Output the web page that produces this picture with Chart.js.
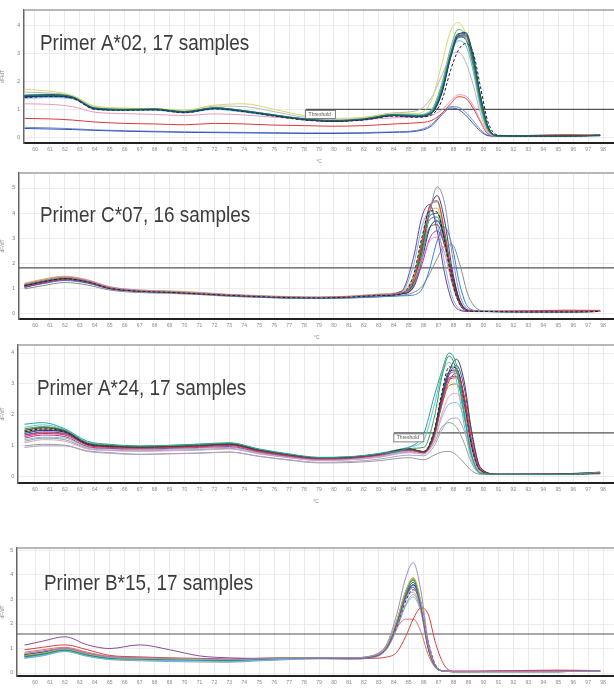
<!DOCTYPE html>
<html><head><meta charset="utf-8">
<script src="https://cdn.jsdelivr.net/npm/chart.js@4.4.1/dist/chart.umd.min.js"></script>
<style>
html,body{margin:0;padding:0;background:#fff;width:614px;height:692px;overflow:hidden}
.p{position:absolute;left:0;width:614px}
canvas{display:block}
</style></head><body>
<div class="p" id="d1"><canvas id="c1"></canvas></div>
<div class="p" id="d2"><canvas id="c2"></canvas></div>
<div class="p" id="d3"><canvas id="c3"></canvas></div>
<div class="p" id="d4"><canvas id="c4"></canvas></div>
<script>
// ---------- DATA ----------
const X_TICK_LABELS = [60,61,62,63,64,65,66,67,68,69,70,71,72,73,74,75,76,77,78,79,80,81,82,83,84,85,86,87,88,89,90,91,92,93,94,95,96,97,98];
const TITLES = ["Primer A*02, 17 samples","Primer C*07, 16 samples","Primer A*24, 17 samples","Primer B*15, 17 samples"];
const Y_TICKS_A02 = [0,1,2,3,4];
const Y_TICKS_C07 = [0,1,2,3,4,5];
const Y_TICKS_A24 = [0,1,2,3,4];
const Y_TICKS_B15 = [0,1,2,3,4,5];
const THRESHOLDS = [1.0, 1.83, 1.42, 1.59];
const THRESHOLD_FROM = [78.1, null, 84.0, null];

// Primer A*02 (temperature, °C)
const A02_TEMPS = [59.3,61,62.5,64,66,68,70,72,74,76,78,80,82,84,85.5,86.5,87.2,87.8,88.3,88.8,89.3,89.8,90.3,91,93,95.5,97.8];
const A02_VALUES = [
[1.50,1.53,1.45,1.05,1.00,1.02,0.92,1.06,0.95,0.80,0.66,0.60,0.66,0.80,0.76,0.88,1.65,2.95,3.70,3.72,2.85,1.40,0.35,0.05,0.06,0.05,0.08],
[1.45,1.48,1.42,1.02,0.98,1.00,0.90,1.03,0.93,0.78,0.64,0.58,0.64,0.78,0.74,0.85,1.55,2.85,3.65,3.75,2.95,1.50,0.40,0.06,0.05,0.05,0.07],
[1.42,1.46,1.40,1.00,0.97,0.98,0.88,1.02,0.92,0.76,0.62,0.57,0.62,0.76,0.72,0.80,1.30,2.40,3.10,3.35,3.05,1.80,0.55,0.08,0.05,0.05,0.08],
[1.48,1.50,1.43,1.04,1.00,1.00,0.91,1.04,0.94,0.79,0.65,0.59,0.65,0.82,0.78,0.92,1.75,3.00,3.60,3.50,2.60,1.20,0.28,0.05,0.05,0.05,0.08],
[1.40,1.42,1.38,1.00,0.96,0.97,0.88,1.00,0.90,0.76,0.64,0.60,0.66,0.82,0.80,0.95,1.80,2.95,3.45,3.30,2.40,1.10,0.25,0.06,0.06,0.05,0.08],
[1.46,1.49,1.41,1.03,0.99,0.99,0.89,1.03,0.93,0.78,0.63,0.58,0.63,0.78,0.75,0.86,1.60,2.90,3.60,3.65,2.80,1.35,0.32,0.05,0.05,0.05,0.07],
[1.72,1.65,1.50,1.12,1.05,1.02,0.98,1.15,1.20,1.00,0.78,0.68,0.72,0.85,0.85,1.30,2.60,3.80,4.10,3.70,2.40,1.00,0.20,0.05,0.05,0.05,0.07],
[1.62,1.58,1.48,1.10,1.02,1.02,0.95,1.12,1.10,0.92,0.72,0.64,0.70,0.88,0.95,1.40,2.20,2.90,3.05,2.70,1.90,0.85,0.18,0.05,0.05,0.05,0.07],
[1.20,1.18,1.10,0.90,0.85,0.82,0.78,0.84,0.80,0.72,0.66,0.62,0.64,0.70,0.72,0.78,0.98,1.30,1.52,1.48,1.15,0.60,0.15,0.05,0.05,0.06,0.08],
[0.68,0.66,0.62,0.55,0.50,0.48,0.45,0.50,0.48,0.44,0.42,0.40,0.42,0.48,0.52,0.60,0.85,1.20,1.45,1.40,1.05,0.55,0.12,0.05,0.07,0.10,0.08],
[0.32,0.30,0.28,0.25,0.22,0.20,0.18,0.17,0.16,0.15,0.14,0.14,0.15,0.18,0.22,0.40,0.80,1.05,1.00,0.80,0.50,0.22,0.06,0.04,0.05,0.05,0.06],
[0.36,0.34,0.31,0.27,0.24,0.22,0.20,0.19,0.18,0.17,0.16,0.16,0.17,0.20,0.25,0.45,0.85,1.10,1.08,0.90,0.60,0.28,0.08,0.04,0.05,0.05,0.06],
[1.52,1.55,1.47,1.06,1.01,1.01,0.92,1.06,0.96,0.81,0.67,0.61,0.67,0.83,0.79,0.95,1.85,3.10,3.70,3.55,2.55,1.15,0.25,0.05,0.05,0.05,0.08],
[1.47,1.50,1.44,1.04,0.99,1.01,0.91,1.05,0.94,0.79,0.65,0.59,0.65,0.80,0.76,0.88,1.65,2.95,3.60,3.55,2.70,1.30,0.30,0.05,0.05,0.05,0.08],
[1.44,1.47,1.41,1.02,0.98,0.99,0.89,1.03,0.93,0.78,0.63,0.58,0.64,0.79,0.75,0.87,1.58,2.85,3.55,3.60,2.75,1.35,0.33,0.05,0.05,0.06,0.08],
[1.49,1.51,1.44,1.05,1.00,1.01,0.91,1.05,0.95,0.80,0.66,0.60,0.66,0.81,0.77,0.89,1.62,2.90,3.62,3.68,2.90,1.45,0.38,0.06,0.05,0.05,0.08],
[1.50,1.52,1.45,1.05,1.00,1.00,0.90,1.05,0.95,0.80,0.66,0.60,0.66,0.82,0.80,0.98,1.90,3.20,3.85,3.65,2.60,1.15,0.25,0.05,0.05,0.05,0.08]
];

// Primer C*07
const C07_TEMPS = [59.3,60.5,62,63.5,65,67,69,71,73,75,77,79,81,83,84.5,85.3,85.9,86.4,86.9,87.4,87.9,88.4,89,90,93,95.5,97.8];
const C07_VALUES = [
[1.12,1.28,1.40,1.28,1.02,0.90,0.86,0.80,0.74,0.69,0.65,0.64,0.67,0.73,0.80,1.50,3.10,4.10,4.05,2.90,1.30,0.40,0.12,0.10,0.08,0.08,0.10],
[1.18,1.32,1.45,1.32,1.06,0.93,0.89,0.83,0.76,0.71,0.67,0.66,0.69,0.75,0.84,1.10,2.30,4.00,5.05,4.40,2.40,0.80,0.18,0.10,0.08,0.08,0.10],
[1.10,1.25,1.38,1.27,1.03,0.91,0.87,0.81,0.74,0.70,0.66,0.65,0.68,0.74,0.82,1.35,2.90,4.30,4.50,3.20,1.40,0.40,0.12,0.10,0.12,0.15,0.14],
[1.05,1.22,1.36,1.25,1.00,0.90,0.86,0.80,0.74,0.69,0.66,0.65,0.68,0.75,0.90,2.20,3.90,4.35,3.30,1.60,0.50,0.15,0.10,0.10,0.10,0.10,0.12],
[1.08,1.20,1.33,1.22,1.00,0.89,0.85,0.79,0.72,0.67,0.63,0.62,0.64,0.68,0.72,0.75,1.00,1.80,2.90,3.45,2.70,1.20,0.25,0.10,0.08,0.08,0.10],
[1.20,1.35,1.48,1.35,1.08,0.95,0.90,0.84,0.77,0.72,0.68,0.67,0.70,0.78,0.88,1.30,2.20,2.90,3.05,2.40,1.20,0.40,0.12,0.10,0.12,0.14,0.14],
[1.00,1.12,1.25,1.15,0.95,0.85,0.82,0.77,0.70,0.66,0.62,0.61,0.63,0.68,0.74,0.85,1.10,1.60,2.20,2.70,2.75,2.00,0.70,0.12,0.10,0.10,0.10],
[1.14,1.29,1.41,1.29,1.04,0.91,0.87,0.81,0.75,0.70,0.66,0.65,0.68,0.74,0.81,1.20,2.70,3.90,4.00,3.00,1.45,0.45,0.12,0.10,0.09,0.08,0.10],
[1.12,1.26,1.39,1.27,1.03,0.90,0.86,0.80,0.73,0.68,0.64,0.63,0.66,0.72,0.79,1.05,2.20,3.40,3.70,3.00,1.60,0.55,0.14,0.10,0.08,0.08,0.10],
[1.22,1.38,1.50,1.36,1.08,0.95,0.92,0.86,0.78,0.73,0.69,0.67,0.71,0.79,0.90,1.50,3.00,4.15,4.20,3.00,1.30,0.40,0.12,0.10,0.10,0.10,0.12],
[1.16,1.31,1.43,1.30,1.05,0.92,0.88,0.82,0.75,0.70,0.66,0.65,0.68,0.74,0.82,1.25,2.60,3.75,3.85,2.85,1.35,0.42,0.12,0.10,0.09,0.09,0.10],
[1.13,1.27,1.40,1.28,1.03,0.91,0.87,0.81,0.74,0.69,0.65,0.64,0.67,0.73,0.80,1.05,2.00,3.00,3.30,2.75,1.50,0.50,0.14,0.10,0.12,0.12,0.12],
[1.10,1.26,1.40,1.28,1.03,0.91,0.87,0.81,0.74,0.69,0.66,0.65,0.68,0.74,0.81,1.25,2.80,4.25,4.45,3.30,1.50,0.45,0.12,0.10,0.08,0.08,0.10],
[1.18,1.33,1.46,1.33,1.06,0.93,0.89,0.83,0.76,0.71,0.67,0.66,0.69,0.76,0.84,1.20,2.40,3.45,3.55,2.70,1.35,0.45,0.12,0.10,0.10,0.10,0.12],
[1.08,1.24,1.37,1.26,1.01,0.90,0.86,0.80,0.73,0.68,0.65,0.64,0.67,0.74,0.86,1.90,3.50,4.10,3.60,2.00,0.70,0.20,0.10,0.09,0.08,0.08,0.10],
[1.15,1.30,1.42,1.30,1.05,0.92,0.88,0.82,0.75,0.70,0.66,0.65,0.68,0.74,0.82,1.10,2.50,4.10,4.70,3.70,1.80,0.55,0.14,0.10,0.10,0.10,0.12]
];

// Primer A*24
const A24_TEMPS = [59.3,60.5,62,63.5,65,67,69,71,73,75,77,79,81,83,85,86,86.7,87.2,87.7,88.2,88.7,89.2,89.8,91,93,95.5,97.8];
const A24_VALUES = [
[1.70,1.75,1.55,1.15,1.05,1.00,1.02,1.06,1.10,0.90,0.74,0.63,0.65,0.75,0.95,1.40,2.60,3.40,4.00,3.60,2.10,0.70,0.12,0.08,0.08,0.08,0.15],
[1.50,1.58,1.48,1.08,1.00,0.96,0.98,1.01,1.06,0.86,0.71,0.61,0.63,0.73,0.90,0.80,1.40,2.50,3.40,3.80,3.10,1.50,0.30,0.08,0.08,0.10,0.15],
[1.30,1.40,1.35,1.02,0.95,0.93,0.95,0.98,1.02,0.83,0.69,0.59,0.61,0.71,0.88,0.78,1.30,2.30,3.10,3.35,2.60,1.20,0.25,0.08,0.08,0.10,0.12],
[1.45,1.55,1.46,1.06,0.99,0.95,0.97,1.00,1.05,0.85,0.70,0.60,0.62,0.72,0.90,0.82,1.50,2.70,3.55,3.50,2.50,1.00,0.20,0.08,0.08,0.08,0.12],
[1.55,1.62,1.50,1.10,1.02,0.98,1.00,1.04,1.08,0.88,0.72,0.62,0.64,0.74,0.92,0.95,1.90,3.20,3.90,3.40,2.00,0.70,0.12,0.08,0.08,0.08,0.12],
[1.25,1.35,1.30,0.98,0.92,0.90,0.92,0.95,0.98,0.80,0.66,0.57,0.59,0.69,0.85,0.80,1.35,2.40,3.20,3.25,2.40,1.00,0.20,0.08,0.09,0.10,0.12],
[1.10,1.20,1.15,0.90,0.85,0.82,0.84,0.86,0.90,0.74,0.62,0.53,0.55,0.63,0.78,0.74,1.20,2.00,2.60,2.70,2.10,0.90,0.18,0.08,0.08,0.10,0.12],
[0.95,1.00,1.00,0.82,0.76,0.72,0.74,0.76,0.80,0.66,0.55,0.47,0.49,0.57,0.70,0.68,1.00,1.50,1.85,1.90,1.50,0.70,0.15,0.08,0.08,0.08,0.10],
[1.00,1.05,1.02,0.84,0.78,0.73,0.75,0.77,0.80,0.66,0.54,0.45,0.46,0.52,0.62,0.55,0.70,0.80,0.82,0.70,0.45,0.20,0.08,0.08,0.08,0.08,0.10],
[1.60,1.68,1.52,1.12,1.03,0.99,1.01,1.05,1.09,0.89,0.73,0.62,0.64,0.76,0.96,1.20,2.30,3.30,3.70,3.10,1.70,0.55,0.12,0.08,0.08,0.08,0.12],
[1.40,1.50,1.44,1.05,0.98,0.94,0.96,0.99,1.04,0.84,0.70,0.60,0.62,0.72,0.89,0.80,1.45,2.60,3.40,3.45,2.60,1.10,0.22,0.08,0.08,0.08,0.12],
[1.50,1.60,1.48,1.08,1.00,0.96,0.99,1.02,1.06,0.86,0.71,0.61,0.63,0.73,0.91,0.82,1.35,2.30,2.95,3.00,2.30,1.00,0.20,0.08,0.08,0.08,0.12],
[1.35,1.45,1.40,1.04,0.97,0.94,0.96,0.99,1.03,0.84,0.69,0.59,0.61,0.71,0.88,0.78,1.30,2.40,3.30,3.60,2.90,1.40,0.28,0.08,0.08,0.08,0.12],
[1.20,1.28,1.25,0.95,0.90,0.87,0.89,0.92,0.95,0.78,0.64,0.55,0.57,0.66,0.82,0.76,1.20,1.90,2.35,2.40,1.90,0.85,0.18,0.08,0.08,0.08,0.12],
[1.45,1.52,1.45,1.06,0.99,0.95,0.97,1.00,1.05,0.85,0.70,0.60,0.62,0.72,0.89,0.80,1.40,2.45,3.15,3.20,2.40,1.00,0.20,0.08,0.08,0.10,0.12],
[1.35,1.42,1.38,1.03,0.96,0.93,0.95,0.98,1.02,0.83,0.69,0.59,0.61,0.71,0.87,0.79,1.40,2.50,3.30,3.40,2.60,1.10,0.22,0.09,0.08,0.10,0.12],
[1.15,1.25,1.20,0.92,0.86,0.84,0.86,0.88,0.92,0.75,0.62,0.53,0.55,0.64,0.80,0.74,1.10,1.60,1.75,1.60,1.10,0.45,0.10,0.08,0.08,0.08,0.10]
];

// Primer B*15
const B15_TEMPS = [59.3,60.5,62,63.5,65,67,69,71,73,75,77,79,81,82.5,83.5,84.2,84.8,85.3,85.8,86.3,86.8,87.4,88,89.5,92,95,97.8];
const B15_VALUES = [
[0.80,0.90,1.00,0.80,0.65,0.62,0.60,0.58,0.55,0.58,0.60,0.62,0.62,0.70,1.15,2.40,3.90,4.50,3.40,1.30,0.30,0.08,0.06,0.06,0.06,0.06,0.08],
[1.14,1.30,1.48,1.15,1.00,1.15,0.95,0.70,0.62,0.60,0.60,0.62,0.60,0.66,1.00,2.00,3.10,3.50,2.70,1.00,0.25,0.08,0.06,0.06,0.07,0.07,0.08],
[0.72,0.82,0.98,0.78,0.64,0.60,0.58,0.56,0.55,0.60,0.62,0.63,0.62,0.68,1.08,2.15,3.35,3.90,2.95,1.10,0.25,0.08,0.06,0.06,0.06,0.06,0.08],
[0.70,0.80,0.96,0.76,0.63,0.59,0.57,0.55,0.53,0.58,0.61,0.62,0.61,0.67,1.06,2.10,3.30,3.80,2.85,1.05,0.24,0.08,0.06,0.06,0.06,0.06,0.08],
[0.68,0.78,0.94,0.74,0.61,0.58,0.56,0.54,0.52,0.57,0.60,0.61,0.60,0.66,1.05,2.05,3.20,3.70,2.80,1.05,0.24,0.08,0.06,0.06,0.06,0.06,0.08],
[0.62,0.72,0.90,0.70,0.56,0.54,0.50,0.50,0.48,0.52,0.56,0.59,0.58,0.64,1.00,1.95,3.05,3.50,2.70,1.00,0.23,0.08,0.06,0.06,0.06,0.06,0.08],
[0.74,0.84,0.99,0.79,0.64,0.60,0.58,0.57,0.55,0.59,0.61,0.62,0.61,0.67,1.02,2.00,3.10,3.60,2.90,1.20,0.28,0.08,0.06,0.06,0.06,0.06,0.08],
[0.72,0.82,0.97,0.77,0.63,0.59,0.57,0.55,0.53,0.58,0.60,0.61,0.60,0.66,1.00,1.90,2.95,3.40,2.85,1.30,0.32,0.09,0.06,0.06,0.06,0.06,0.08],
[0.95,1.05,1.15,0.95,0.72,0.66,0.62,0.60,0.57,0.60,0.60,0.60,0.58,0.60,0.65,0.85,1.50,2.20,2.65,2.40,1.20,0.30,0.08,0.08,0.10,0.12,0.10],
[0.85,0.95,1.05,0.85,0.68,0.62,0.60,0.58,0.55,0.58,0.60,0.62,0.62,0.70,1.10,1.85,2.20,2.20,1.70,0.75,0.20,0.08,0.08,0.08,0.10,0.10,0.10],
[0.66,0.76,0.93,0.73,0.60,0.56,0.54,0.52,0.50,0.56,0.59,0.61,0.60,0.66,1.04,2.05,3.20,3.70,2.80,1.05,0.24,0.08,0.06,0.06,0.06,0.06,0.08],
[0.60,0.70,0.88,0.68,0.55,0.50,0.47,0.45,0.44,0.50,0.55,0.58,0.57,0.62,0.95,1.80,2.80,3.20,2.60,1.10,0.28,0.08,0.06,0.06,0.06,0.06,0.08],
[0.78,0.88,1.02,0.82,0.66,0.62,0.60,0.58,0.56,0.60,0.62,0.63,0.62,0.68,1.04,1.95,3.00,3.30,2.60,1.05,0.26,0.08,0.06,0.06,0.08,0.08,0.08],
[0.70,0.80,0.97,0.77,0.63,0.59,0.57,0.55,0.53,0.58,0.61,0.62,0.61,0.68,1.08,2.15,3.35,3.85,2.90,1.10,0.25,0.08,0.06,0.06,0.06,0.06,0.08],
[0.64,0.74,0.91,0.72,0.58,0.55,0.52,0.50,0.48,0.54,0.57,0.60,0.59,0.64,0.98,1.85,2.75,3.10,2.50,1.00,0.25,0.08,0.06,0.06,0.06,0.06,0.08],
[0.76,0.86,1.00,0.80,0.65,0.61,0.59,0.57,0.55,0.59,0.61,0.62,0.61,0.67,1.04,2.05,3.15,3.60,2.85,1.10,0.26,0.08,0.06,0.06,0.08,0.08,0.08],
[0.73,0.83,0.98,0.78,0.64,0.60,0.58,0.56,0.54,0.59,0.61,0.62,0.61,0.67,1.06,2.10,3.30,3.80,2.90,1.10,0.25,0.08,0.06,0.06,0.06,0.06,0.08]
];

// ---------- STYLE ----------
const COLORS_A02 = ['#1f6b3a','#1c2a8a','#222222','#2a8c8c','#4cc3d9','#6a3fa0','#d8d86a','#b5b5c8','#e89ab8','#d83a3a','#3355cc','#7a8fb0','#79b6e8','#7d8a3a','#b03a9a','#555555','#5cb85c'];
const COLORS_C07 = ['#222222','#9090a8','#d83a3a','#6a3fa0','#3a7fd0','#e48ab0','#8a8a8a','#1f6b3a','#1c2a8a','#d9b44a','#2a8c8c','#b03a9a','#4caf50','#7d6a3a','#79b6e8','#2a3aa0'];
const COLORS_A24 = ['#2aa198','#444444','#d83a3a','#222222','#3a9a4a','#b03a9a','#e0a0c0','#b0a0d0','#9a9a9a','#55c8d8','#1c2a8a','#8a8a40','#6a3fa0','#8ab8e0','#8a5a3a','#e05080','#8aa890'];
const COLORS_B15 = ['#9a8ac8','#8a4a9a','#c8b850','#3a9a4a','#2a8c8c','#4cc3d9','#1c2a8a','#222222','#d84040','#e07070','#4060c0','#9a9aa8','#e48ab0','#7d8a3a','#79b6e8','#b03a9a','#1f6b3a'];

const PANELS = [
  {temps:A02_TEMPS, values:A02_VALUES, colors:COLORS_A02, yTicks:Y_TICKS_A02, ymin:-0.2, ymax:4.55, top:10, bottom:143, left:24, titleX:40, titleY:50, dashed:[2]},
  {temps:C07_TEMPS, values:C07_VALUES, colors:COLORS_C07, yTicks:Y_TICKS_C07, ymin:-0.2, ymax:5.6, top:173, bottom:319, left:19, titleX:40, titleY:222, dashed:[0]},
  {temps:A24_TEMPS, values:A24_VALUES, colors:COLORS_A24, yTicks:Y_TICKS_A24, ymin:-0.2, ymax:4.26, top:345, bottom:483, left:18, titleX:37, titleY:395, dashed:[3]},
  {temps:B15_TEMPS, values:B15_VALUES, colors:COLORS_B15, yTicks:Y_TICKS_B15, ymin:-0.12, ymax:5.1, top:548, bottom:676, left:17, titleX:44, titleY:590, dashed:[7]}
];
const PX_PER_DEG = 14.95, TICK60_PX = 35, RIGHT_PX = 614;

const deco = {
  id:'deco',
  afterDraw(chart, args, o){
    const {ctx, chartArea:a} = chart;
    ctx.save();
    ctx.strokeStyle='#a0a0a0'; ctx.lineWidth=1.5;
    ctx.beginPath(); ctx.moveTo(a.left, a.top); ctx.lineTo(a.right, a.top); ctx.stroke();
    if (o.label){
      const xs = chart.scales.x, ys = chart.scales.y;
      const px = xs.getPixelForValue(o.label.x), py = ys.getPixelForValue(o.label.y);
      ctx.fillStyle='#fff'; ctx.strokeStyle='#666'; ctx.lineWidth=0.8;
      ctx.fillRect(px, py+1, 30, 8); ctx.strokeRect(px, py+1, 30, 8);
      ctx.fillStyle='#555'; ctx.font='5px "Liberation Sans", sans-serif';
      ctx.textBaseline='middle'; ctx.fillText('Threshold', px+3, py+5);
    }
    ctx.restore();
    ctx.save();
    ctx.fillStyle='#3c3c3c';
    ctx.font='22px "Liberation Sans", Arial, sans-serif';
    ctx.textBaseline='alphabetic';
    ctx.translate(o.tx, o.ty); ctx.scale(0.86,1);
    ctx.fillText(o.title, 0, 0);
    ctx.restore();
  }
};

PANELS.forEach((p, i) => {
  const padTop = 8, axisH = 22;
  const divTop = p.top - padTop;
  const h = padTop + (p.bottom - p.top) + axisH;
  const d = document.getElementById('d'+(i+1));
  d.style.top = divTop + 'px'; d.style.height = h + 'px';
  const cv = document.getElementById('c'+(i+1));
  cv.width = 614; cv.height = h;
  const xmin = 60 - (TICK60_PX - p.left)/PX_PER_DEG;
  const xmax = 60 + (RIGHT_PX - TICK60_PX)/PX_PER_DEG;
  const datasets = p.values.map((vals, k) => ({
    data: p.temps.map((t, j) => ({x:t, y:vals[j]})),
    borderColor: p.colors[k],
    borderWidth: 1,
    borderDash: p.dashed.includes(k) ? [3,2] : [],
    pointRadius: 0,
    cubicInterpolationMode: 'monotone',
    fill: false
  }));
  const thrFrom = THRESHOLD_FROM[i] === null ? xmin : THRESHOLD_FROM[i];
  datasets.push({
    data: [{x:thrFrom, y:THRESHOLDS[i]}, {x:xmax, y:THRESHOLDS[i]}],
    borderColor:'#555', borderWidth:1.1, pointRadius:0, tension:0
  });
  new Chart(cv, {
    type:'line',
    data:{datasets},
    options:{
      responsive:false, animation:false, devicePixelRatio:1,
      layout:{padding:{top:padTop, right:0, left:0, bottom:0}},
      plugins:{legend:{display:false}, tooltip:{enabled:false}, title:{display:false},
        deco:{title:TITLES[i], tx:p.titleX, ty:p.titleY - divTop,
              label: THRESHOLD_FROM[i] === null ? null : {x:THRESHOLD_FROM[i], y:THRESHOLDS[i]}}},
      scales:{
        x:{type:'linear', min:xmin, max:xmax,
           afterBuildTicks:(s)=>{s.ticks = X_TICK_LABELS.map(v=>({value:v}));},
           afterFit:(s)=>{s.height = axisH;},
           grid:{color:'#e4e4e4', lineWidth:0.8, drawTicks:false},
           border:{display:true, color:'#222', width:2},
           ticks:{font:{size:5, family:'"Liberation Sans", sans-serif'}, color:'#888', padding:4, maxRotation:0, autoSkip:false},
           title:{display:true, text:'°C', font:{size:5}, color:'#888', padding:{top:0,bottom:0}}},
        y:{min:p.ymin, max:p.ymax,
           afterBuildTicks:(s)=>{s.ticks = p.yTicks.map(v=>({value:v}));},
           afterFit:(s)=>{s.width = p.left;},
           grid:{color:'#e8e8e8', lineWidth:0.8, drawTicks:false},
           border:{display:true, color:'#666', width:1.5},
           ticks:{font:{size:5, family:'"Liberation Sans", sans-serif'}, color:'#777', padding:4},
           title:{display:true, text:'dF/dT', font:{size:5}, color:'#888', padding:{top:0,bottom:1}}}
      }
    },
    plugins:[deco]
  });
});
</script>
</body></html>
